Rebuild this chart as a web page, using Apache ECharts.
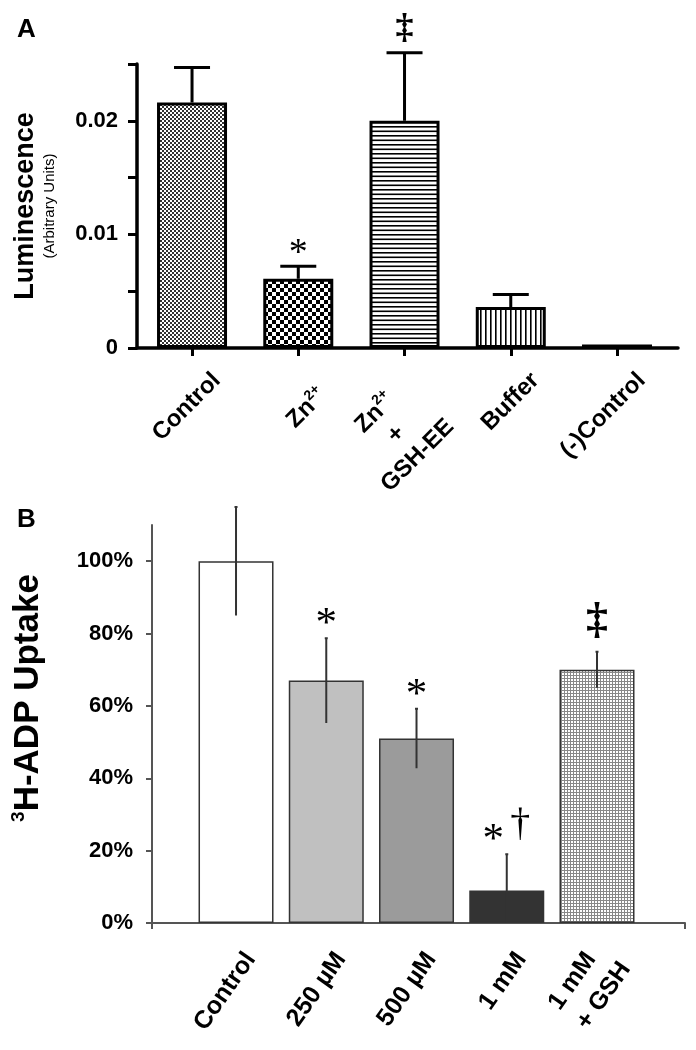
<!DOCTYPE html>
<html><head><meta charset="utf-8">
<script src="https://cdn.jsdelivr.net/npm/echarts@6/dist/echarts.min.js"></script>
<style>html,body{margin:0;padding:0;background:#fff}#c{width:696px;height:1050px}</style>
</head><body><div id="c"></div>
<script>
// ---------- Panel A data ----------
const catsA = ['Control', 'Zn2+', 'Zn2+ + GSH-EE', 'Buffer', '(-)Control'];
const meanA = [0.0216, 0.0061, 0.0200, 0.0036, 0.0003];
const errA = [0.0031, 0.0011, 0.0060, 0.0011, 0];
const marksA = ['', '*', '‡', '', ''];
const ticksA = [0, 0.005, 0.01, 0.015, 0.02, 0.025];
const tickLabelsA = [0, 0.01, 0.02];

// ---------- Panel B data ----------
const catsB = ['Control', '250 µM', '500 µM', '1 mM', '1 mM + GSH'];
const meanB = [100, 67, 51, 9, 70];
const errB = [15, 11.7, 8.2, 10, 5];
const marksB = ['', '*', '*', '*†', '‡'];
const ticksB = [0, 20, 40, 60, 80, 100];

const FONT = 'Liberation Sans';
const SERIF = 'Liberation Serif';

function pat(w, h, draw) {
  const c = document.createElement('canvas');
  c.width = w; c.height = h;
  const g = c.getContext('2d');
  g.fillStyle = '#fff'; g.fillRect(0, 0, w, h);
  g.fillStyle = '#000';
  draw(g);
  return { image: c, repeat: 'repeat' };
}
const fillsA = [
  pat(4, 4, g => { g.fillStyle = '#333'; g.fillRect(0, 0, 2, 2); g.fillRect(2, 2, 2, 2); }),
  pat(8, 8, g => { g.fillRect(0, 0, 4, 4); g.fillRect(4, 4, 4, 4); }),
  pat(4, 9, g => { g.fillRect(0, 0, 4, 1.6); g.fillRect(0, 4.5, 4, 1.6); }),
  pat(5, 4, g => { g.fillRect(0, 0, 1.6, 4); }),
  '#000'
];
const fillsB = [
  '#ffffff', '#c0c0c0', '#9b9b9b', '#333333',
  pat(3, 3, g => { g.fillStyle = '#888'; g.fillRect(0, 0, 3, 1); g.fillRect(0, 0, 1, 3); })
];

function labelA(v) {
  const name = catsA[Math.round(v)];
  if (name === 'Zn2+') return '{g| }\n{t|Zn}{sp|2+}';
  if (name === 'Zn2+ + GSH-EE') return '{g3| }\n{ct|Zn}{cs|2+}\n{c|+}\n{c|GSH-EE}';
  return '{t|' + name + '}';
}
function labelB(v) {
  const name = catsB[Math.round(v)];
  if (name === '1 mM + GSH') return '{l1|1 mM}\n{l2|+ GSH}';
  return '{t|' + name + '}';
}

const baseA = { fontSize: 24, fontWeight: 'bold', fontFamily: FONT, color: '#000' };
const richA = {
  t: Object.assign({}, baseA, { lineHeight: 28 }),
  g: Object.assign({}, baseA, { fontSize: 10, lineHeight: 21 }),
  g3: Object.assign({}, baseA, { fontSize: 10, lineHeight: 35, align: 'center' }),
  sp: Object.assign({}, baseA, { fontSize: 14, lineHeight: 14, verticalAlign: 'top', padding: [0, 11, 0, 0] }),
  ct: Object.assign({}, baseA, { lineHeight: 30, align: 'center' }),
  cs: Object.assign({}, baseA, { fontSize: 14, lineHeight: 14, verticalAlign: 'top', align: 'center', padding: [0, 18, 0, 0] }),
  c: Object.assign({}, baseA, { lineHeight: 30, align: 'center', padding: [0, 18, 0, 0] })
};
const baseB = { fontSize: 25, fontWeight: 'bold', fontFamily: FONT, color: '#000' };
const richB = {
  t: Object.assign({}, baseB, { lineHeight: 28, padding: [0, 4, 0, 0] }),
  l1: Object.assign({}, baseB, { lineHeight: 34, align: 'left' }),
  l2: Object.assign({}, baseB, { lineHeight: 34, align: 'left', padding: [0, 4, 0, 0] })
};

function errRenderA(params, api) {
  const x = api.value(0), m = api.value(1), e = api.value(2);
  if (!e) return null;
  const p0 = api.coord([x, m]), p1 = api.coord([x, m + e]);
  const cap = 18;
  return { type: 'path', shape: { pathData:
      'M' + p0[0] + ' ' + p0[1] + 'L' + p1[0] + ' ' + p1[1] +
      'M' + (p1[0] - cap) + ' ' + p1[1] + 'L' + (p1[0] + cap) + ' ' + p1[1] },
    style: { stroke: '#000', lineWidth: 3, fill: null } };
}
function errRenderB(params, api) {
  const x = api.value(0), m = api.value(1), e = api.value(2);
  const p0 = api.coord([x, Math.max(0, m - e)]), p1 = api.coord([x, m + e]);
  return { type: 'path', shape: { pathData:
      'M' + p0[0] + ' ' + p0[1] + 'L' + p1[0] + ' ' + p1[1] +
      'M' + (p1[0] - 1.5) + ' ' + p1[1] + 'L' + (p1[0] + 1.5) + ' ' + p1[1] },
    style: { stroke: '#333', lineWidth: 2, fill: null } };
}
// glyph styles for significance marks
const glyphA = { '*': { font: '38px "' + SERIF + '"', dy: 7 }, '‡': { font: 'bold 36px "' + SERIF + '"', dy: -6 } };
const glyphB = { '*': { font: '43px "' + SERIF + '"', dy: 8 }, '†': { font: '40px "' + SERIF + '"', dy: -10 },
                 '‡': { font: 'bold 44px "' + SERIF + '"', dy: -8 } };
function makeMarkRender(marks, glyphs, spacing) {
  return function (params, api) {
    const t = marks[params.dataIndex];
    if (!t) return null;
    const p = api.coord([api.value(0), api.value(1) + api.value(2)]);
    const chars = Array.from(t);
    const children = chars.map((ch, k) => {
      const gs = glyphs[ch];
      return { type: 'text', style: {
        text: ch, x: p[0] + (k - (chars.length - 1) / 2) * spacing, y: p[1] + gs.dy,
        fill: '#000', font: gs.font, textAlign: 'center', textVerticalAlign: 'bottom' } };
    });
    return { type: 'group', children: children };
  };
}

const chart = echarts.init(document.getElementById('c'), null, { renderer: 'canvas' });
chart.setOption({
  animation: false,
  backgroundColor: '#fff',
  title: [
    { text: 'A', left: 12, top: 12, textStyle: { fontSize: 26, fontWeight: 'bold', fontFamily: FONT, color: '#000' } },
    { text: 'B', left: 12, top: 502, textStyle: { fontSize: 26, fontWeight: 'bold', fontFamily: FONT, color: '#000' } }
  ],
  grid: [
    { left: 137, top: 64, width: 541, height: 284 },
    { left: 152, top: 525, width: 533, height: 398 }
  ],
  xAxis: [
    { gridIndex: 0, type: 'value', min: -0.518, max: 4.574,
      splitLine: { show: false },
      axisLine: { onZero: false, lineStyle: { color: '#000', width: 3.5 } },
      axisTick: { customValues: [0, 1, 2, 3, 4], length: 8, lineStyle: { color: '#000', width: 3 } },
      axisLabel: { customValues: [0, 1, 2, 3, 4], rotate: 45, margin: 4, padding: [70, 0, 0, 0],
        formatter: labelA, rich: richA } },
    { gridIndex: 1, type: 'value', min: -0.931, max: 4.975,
      splitLine: { show: false },
      axisLine: { onZero: false, lineStyle: { color: '#555', width: 2 } },
      axisTick: { customValues: [-0.931, 4.975], length: 6, lineStyle: { color: '#555', width: 2 } },
      axisLabel: { customValues: [0, 1, 2, 3, 4], rotate: 55, margin: 17, padding: [41, 0, 0, 0],
        formatter: labelB, rich: richB } }
  ],
  yAxis: [
    { gridIndex: 0, type: 'value', min: 0, max: 0.025,
      splitLine: { show: false },
      axisLine: { show: true, onZero: false, lineStyle: { color: '#000', width: 3.5 } },
      axisTick: { show: true, customValues: ticksA, length: 9, lineStyle: { color: '#000', width: 3 } },
      axisLabel: { customValues: tickLabelsA, margin: 19, fontSize: 22, fontWeight: 'bold', fontFamily: FONT, color: '#000',
        formatter: v => (v === 0 ? '0' : String(v)) },
      name: '{a|Luminescence}\n{b|(Arbitrary Units)}', nameLocation: 'middle', nameRotate: 90, nameGap: 78,
      nameTextStyle: { rich: {
        a: { fontSize: 27, fontWeight: 'bold', fontFamily: FONT, color: '#000', lineHeight: 30 },
        b: { fontSize: 15, fontFamily: FONT, color: '#000', lineHeight: 18 } } } },
    { gridIndex: 1, type: 'value', min: 0, max: 110,
      splitLine: { show: false },
      axisLine: { show: true, onZero: false, lineStyle: { color: '#555', width: 2 } },
      axisTick: { show: true, customValues: ticksB, length: 6, lineStyle: { color: '#555', width: 2 } },
      axisLabel: { customValues: ticksB, margin: 19, fontSize: 22, fontWeight: 'bold', fontFamily: FONT, color: '#000',
        formatter: '{value}%' },
      name: '{s|3}{a|H-ADP Uptake}', nameLocation: 'middle', nameRotate: 90, nameGap: 105,
      nameTextStyle: { padding: [0, 0, 0, 52], rich: {
        a: { fontSize: 35, fontWeight: 'bold', fontFamily: FONT, color: '#000', lineHeight: 38 },
        s: { fontSize: 19, fontWeight: 'bold', fontFamily: FONT, color: '#000', lineHeight: 19, verticalAlign: 'top' } } } }
  ],
  series: [
    { type: 'bar', xAxisIndex: 0, yAxisIndex: 0, barWidth: 70,
      itemStyle: { borderColor: '#000', borderWidth: 3 },
      data: meanA.map((v, i) => ({ value: [i, v], itemStyle: { color: fillsA[i] } })) },
    { type: 'custom', xAxisIndex: 0, yAxisIndex: 0, renderItem: errRenderA, z: 5,
      data: meanA.map((m, i) => [i, m, errA[i]]) },
    { type: 'custom', xAxisIndex: 0, yAxisIndex: 0, renderItem: makeMarkRender(marksA, glyphA, 26), z: 6,
      data: meanA.map((m, i) => [i, m, errA[i]]) },
    { type: 'bar', xAxisIndex: 1, yAxisIndex: 1, barWidth: 75,
      itemStyle: { borderColor: '#333', borderWidth: 1.5 },
      data: meanB.map((v, i) => ({ value: [i, v], itemStyle: { color: fillsB[i] } })) },
    { type: 'custom', xAxisIndex: 1, yAxisIndex: 1, renderItem: errRenderB, z: 5,
      data: meanB.map((m, i) => [i, m, errB[i]]) },
    { type: 'custom', xAxisIndex: 1, yAxisIndex: 1, renderItem: makeMarkRender(marksB, glyphB, 27), z: 6,
      data: meanB.map((m, i) => [i, m, errB[i]]) }
  ]
});
</script>
</body></html>
